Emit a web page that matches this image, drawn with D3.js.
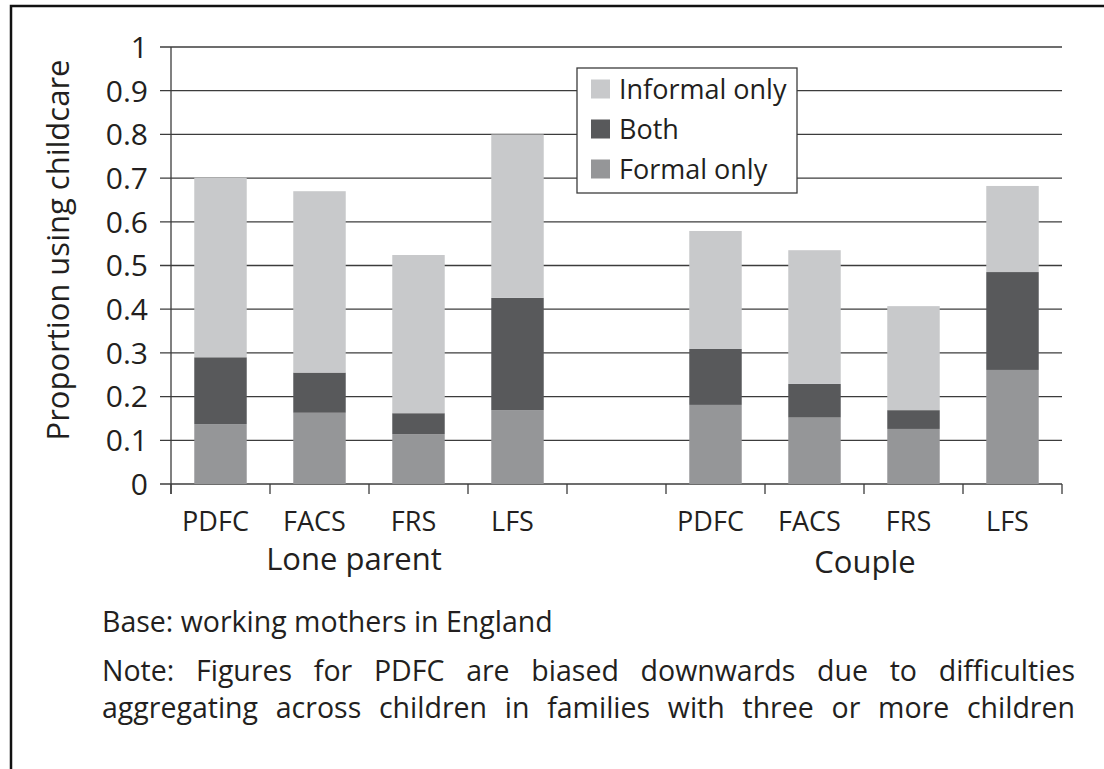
<!DOCTYPE html>
<html>
<head>
<meta charset="utf-8">
<script src="https://cdn.jsdelivr.net/npm/d3@7"></script>
<style>
  body { margin: 0; background: #fff; }
  svg { display: block; font-family: 'Open Sans', sans-serif; fill: #231f20; }
</style>
</head>
<body>
<svg width="1104" height="769"></svg>
<script>
// Data
var groups = ['Lone parent', 'Couple'];
var surveys = ['PDFC', 'FACS', 'FRS', 'LFS'];
var formalOnly = [0.137, 0.163, 0.114, 0.169, 0.181, 0.152, 0.126, 0.261];
var both       = [0.153, 0.092, 0.048, 0.257, 0.128, 0.077, 0.043, 0.224];
var informal   = [0.411, 0.415, 0.362, 0.374, 0.270, 0.306, 0.238, 0.197];
var yTicks = [0, 0.1, 0.2, 0.3, 0.4, 0.5, 0.6, 0.7, 0.8, 0.9, 1];
var seriesNames = ['Formal only', 'Both', 'Informal only'];
var colours = {'Formal only': '#959698', 'Both': '#58595b', 'Informal only': '#c8c9cb'};

var svg = d3.select('svg');

// slots: 4 lone parent, 1 empty, 4 couple
var slots = [];
groups.forEach(function(g, gi) {
    surveys.forEach(function(s) { slots.push(g + '|' + s); });
    if (gi == 0) slots.push('gap');
});

var rows = [];
var k = 0;
groups.forEach(function(g) {
    surveys.forEach(function(s) {
        rows.push({key: g + '|' + s, survey: s, group: g,
            'Formal only': formalOnly[k], 'Both': both[k], 'Informal only': informal[k]});
        k++;
    });
});

var xScale = d3.scaleBand().domain(slots).range([171, 1062]);
var yScale = d3.scaleLinear().domain([0, 1]).range([484, 47]);
var barW = xScale.bandwidth() * 0.53;

// outer frame
svg.append('rect')
    .attr('x', 11).attr('y', 6)
    .attr('width', 1200).attr('height', 900)
    .attr('fill', 'none').attr('stroke', '#111').attr('stroke-width', 2.5);

// gridlines
svg.append('g').selectAll('line')
    .data(yTicks)
    .enter().append('line')
    .attr('x1', 160).attr('x2', 1062)
    .attr('y1', function(d) { return yScale(d); })
    .attr('y2', function(d) { return yScale(d); })
    .attr('stroke', '#3c3c3c').attr('stroke-width', 1.3);

// y tick labels
svg.append('g').selectAll('text')
    .data(yTicks)
    .enter().append('text')
    .attr('x', 148)
    .attr('y', function(d) { return yScale(d); })
    .attr('dy', '0.36em')
    .attr('text-anchor', 'end')
    .style('font-size', '30px')
    .text(function(d) { return d; });

// stacked bars
var stack = d3.stack().keys(seriesNames);
var layers = stack(rows);

svg.append('g').selectAll('g')
    .data(layers)
    .enter().append('g')
    .attr('fill', function(d) { return colours[d.key]; })
    .selectAll('rect')
    .data(function(d) { return d; })
    .enter().append('rect')
    .attr('x', function(d) { return xScale(d.data.key) + (xScale.bandwidth() - barW) / 2; })
    .attr('width', barW)
    .attr('y', function(d) { return yScale(d[1]); })
    .attr('height', function(d) { return yScale(d[0]) - yScale(d[1]); });

// axes lines
svg.append('line')
    .attr('x1', 171).attr('x2', 171).attr('y1', 47).attr('y2', 494)
    .attr('stroke', '#3c3c3c').attr('stroke-width', 1.3);

var bounds = slots.map(function(s) { return xScale(s); }).concat([xScale.range()[1]]);
svg.append('g').selectAll('line')
    .data(bounds)
    .enter().append('line')
    .attr('x1', function(d) { return d; }).attr('x2', function(d) { return d; })
    .attr('y1', 484).attr('y2', 494)
    .attr('stroke', '#3c3c3c').attr('stroke-width', 1.3);

// category labels
svg.append('g').selectAll('text')
    .data(rows)
    .enter().append('text')
    .attr('x', function(d) { return xScale(d.key) + xScale.bandwidth() / 2 - 5; })
    .attr('y', 531)
    .attr('text-anchor', 'middle')
    .style('font-size', '27px')
    .text(function(d) { return d.survey; });

// group labels
svg.append('text')
    .attr('x', 354).attr('y', 570)
    .attr('text-anchor', 'middle')
    .style('font-size', '31px')
    .text(groups[0]);
svg.append('text')
    .attr('x', 865).attr('y', 573)
    .attr('text-anchor', 'middle')
    .style('font-size', '31px')
    .text(groups[1]);

// y axis title
svg.append('text')
    .attr('transform', 'translate(69,250) rotate(-90)')
    .attr('text-anchor', 'middle')
    .style('font-size', '31px')
    .text('Proportion using childcare');

// legend
var legend = svg.append('g');
legend.append('rect')
    .attr('x', 577).attr('y', 68)
    .attr('width', 220).attr('height', 125)
    .attr('fill', '#fff').attr('stroke', '#3c3c3c').attr('stroke-width', 1.3);
var legendItems = seriesNames.slice().reverse();
var li = legend.selectAll('.item')
    .data(legendItems)
    .enter().append('g')
    .attr('class', 'item')
    .attr('transform', function(d, i) { return 'translate(0,' + (89 + i * 40) + ')'; });
li.append('rect')
    .attr('x', 591).attr('y', -9.5)
    .attr('width', 19).attr('height', 19)
    .attr('fill', function(d) { return colours[d]; });
li.append('text')
    .attr('x', 619).attr('y', 0)
    .attr('dy', '0.36em')
    .style('font-size', '27px')
    .text(function(d) { return d; });

// notes
svg.append('text')
    .attr('x', 102).attr('y', 632)
    .style('font-size', '28.5px')
    .text('Base: working mothers in England');

var noteLines = [
    'Note: Figures for PDFC are biased downwards due to difficulties',
    'aggregating across children in families with three or more children'
];
noteLines.forEach(function(line, i) {
    var words = line.split(' ');
    var g = svg.append('g');
    var texts = g.selectAll('text')
        .data(words)
        .enter().append('text')
        .attr('y', 681 + i * 37)
        .style('font-size', '28.5px')
        .text(function(d) { return d; });
    var widths = [];
    texts.each(function() { widths.push(this.getComputedTextLength()); });
    var total = d3.sum(widths);
    var space = (1075 - 102 - total) / (words.length - 1);
    var x = 102;
    texts.each(function(d, j) {
        d3.select(this).attr('x', x);
        x += widths[j] + space;
    });
});
</script>
</body>
</html>
